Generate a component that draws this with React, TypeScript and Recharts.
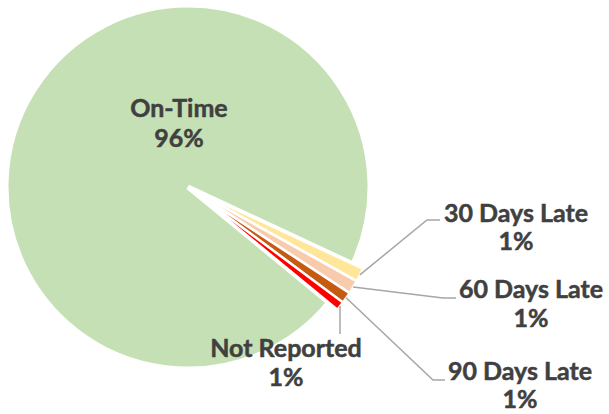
import React from 'react';
import { PieChart, Pie, Cell, Sector } from 'recharts';

const categories = ['On-Time', 'Not Reported', '90 Days Late', '60 Days Late', '30 Days Late'];
const shares = [96.0, 0.75, 0.95, 1.15, 1.15];
const colors = ['#C5E0B4', '#FF0000', '#C55A11', '#F8CBAD', '#FFE699'];

const data = categories.map((name, i) => ({ name, value: shares[i] }));

// how far each slice is pulled out of the pie, and its white border
const EXPLODE = [0, 11, 11, 11, 11];
const BORDER = [5, 2, 2, 2, 2];

// label text centres (two lines) and leader line path, per slice
const labelLayout = [
  { x: 179, y1: 117, y2: 147, line: null },
  { x: 286, y1: 357, y2: 386, line: [[340, 334]] },
  { x: 520, y1: 380, y2: 408, line: [[433, 380], [445, 380]] },
  { x: 531, y1: 298, y2: 327, line: [[443, 298], [456, 298]] },
  { x: 516, y1: 222, y2: 250, line: [[427, 220], [440, 220]] },
];

const RAD = Math.PI / 180;
const FONT = "'Century Gothic', Lato, sans-serif";

const ExplodedSector = (props: any) => {
  const { cx, cy, midAngle, index } = props;
  const d = EXPLODE[index] || 0;
  return (
    <Sector
      {...props}
      cx={cx + d * Math.cos(-midAngle * RAD)}
      cy={cy + d * Math.sin(-midAngle * RAD)}
      stroke="#fff"
      strokeWidth={BORDER[index]}
    />
  );
};

const renderLabel = (props: any) => {
  const { cx, cy, midAngle, outerRadius, index, percent, name } = props;
  const lay = labelLayout[index];
  if (!lay) return null;
  const r = outerRadius + (EXPLODE[index] || 0);
  const sx = cx + r * Math.cos(-midAngle * RAD);
  const sy = cy + r * Math.sin(-midAngle * RAD);
  const pts = lay.line ? [[sx, sy], ...lay.line].map((p) => p.join(',')).join(' ') : null;
  const textProps = {
    x: lay.x,
    textAnchor: 'middle' as const,
    fill: '#404040',
    stroke: '#404040',
    strokeWidth: 0.5,
    fontFamily: FONT,
    fontSize: 25,
    fontWeight: 'bold',
  };
  return (
    <g key={`lbl-${index}`}>
      {pts && <polyline points={pts} fill="none" stroke="#A6A6A6" strokeWidth={1.5} />}
      <text {...textProps} y={lay.y1}>
        {name}
      </text>
      <text {...textProps} y={lay.y2}>
        {`${Math.round(percent * 100)}%`}
      </text>
    </g>
  );
};

export default function App() {
  return (
    <div style={{ position: 'absolute', left: 0, top: 0, width: 609, height: 414, background: '#fff' }}>
      <PieChart width={609} height={414} margin={{ top: 0, right: 0, bottom: 0, left: 0 }}>
        <Pie
          data={data}
          dataKey="value"
          nameKey="name"
          cx={188}
          cy={187}
          outerRadius={182}
          startAngle={-25}
          endAngle={335}
          shape={ExplodedSector}
          label={renderLabel}
          labelLine={false}
          isAnimationActive={false}
        >
          {data.map((d, i) => (
            <Cell key={d.name} fill={colors[i]} />
          ))}
        </Pie>
      </PieChart>
    </div>
  );
}
